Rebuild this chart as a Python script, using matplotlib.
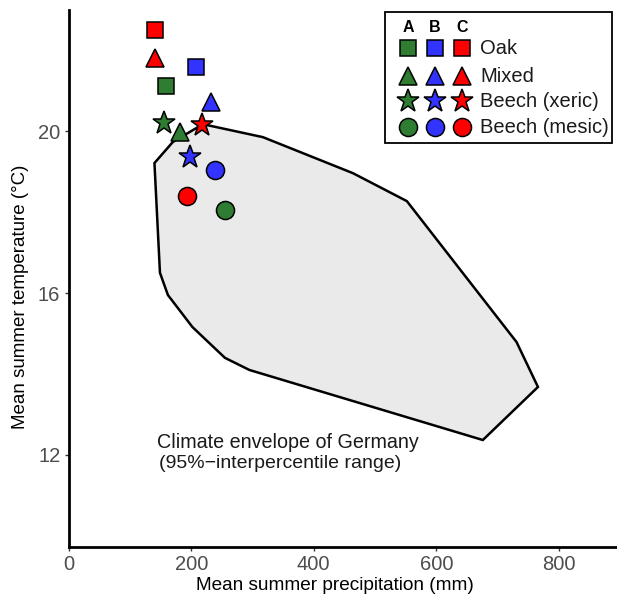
import matplotlib
matplotlib.use("Agg")
import matplotlib.pyplot as plt
from matplotlib.patches import Polygon, Rectangle

plt.rcParams['font.family'] = ['Liberation Sans', 'DejaVu Sans']

# climate envelope of Germany (95% interpercentile hull)
env_precip = [140, 170, 219, 317, 464, 552, 731, 766, 676, 295, 255, 202, 162, 149]
env_temp = [19.21, 19.73, 20.17, 19.85, 18.96, 18.27, 14.79, 13.68, 12.37, 14.1, 14.4, 15.16, 15.95, 16.5]

# study sites: groups A, B, C and forest types
groups = ['A', 'B', 'C']
group_colors = ['#2e7d32', '#3333ff', '#ff0000']
forest_types = ['Oak', 'Mixed', 'Beech (xeric)', 'Beech (mesic)']
markers = ['s', '^', '*', 'o']
msizes = [12, 13, 17, 13]

precip = {
    'A': [159.5, 182.3, 155.1, 254.7],
    'B': [207.3, 231.8, 197.5, 239.0],
    'C': [141.5, 140.4, 218.2, 193.7],
}
temp = {
    'A': [21.12, 19.97, 20.21, 18.05],
    'B': [21.59, 20.72, 19.37, 19.04],
    'C': [22.49, 21.81, 20.15, 18.40],
}

fig = plt.figure(figsize=(6.17, 5.99), dpi=100)
ax = fig.add_axes([0.1113, 0.0873, 0.8887, 0.896])

env = Polygon(list(zip(env_precip, env_temp)), closed=True, facecolor='#eaeaea',
              edgecolor='black', linewidth=1.8, zorder=1)
ax.add_patch(env)

for g, c in zip(groups, group_colors):
    for i, ft in enumerate(forest_types):
        ax.plot(precip[g][i], temp[g][i], marker=markers[i], markersize=msizes[i],
                color=c, markeredgecolor='black', markeredgewidth=1.1,
                linestyle='none', zorder=3)

ax.text(144, 12.3, 'Climate envelope of Germany', fontsize=14.2, color='#1a1a1a',
        va='center', ha='left')
ax.text(148, 11.78, '(95%\u2212interpercentile range)', fontsize=14, color='#1a1a1a',
        va='center', ha='left')

ax.set_xlim(0, 895)
ax.set_ylim(9.735, 22.99)
ax.set_xticks([0, 200, 400, 600, 800])
ax.set_yticks([12, 16, 20])
ax.tick_params(labelsize=14.5, labelcolor='#4d4d4d', color='#333333', length=3, width=1,
               pad=3)
for s in ['top', 'right']:
    ax.spines[s].set_visible(False)
for s in ['left', 'bottom']:
    ax.spines[s].set_linewidth(2)
ax.set_xlabel('Mean summer precipitation (mm)', fontsize=13.7)
ax.set_ylabel('Mean summer temperature (\u00b0C)', fontsize=13.5)
ax.xaxis.set_label_coords(0.486, -0.057)
ax.yaxis.set_label_coords(-0.073, 0.465)


# legend drawn by hand in axes coordinates
def ax_xy(px, py):
    return (px - 68.7) / 548.3, (546.7 - py) / 536.7


x0, y0 = ax_xy(385, 143)
x1, y1 = ax_xy(612, 12)
ax.add_patch(Rectangle((x0, y0), x1 - x0, y1 - y0, transform=ax.transAxes,
                       facecolor='white', edgecolor='black', linewidth=1.3, zorder=4))
col_px = [408, 435, 462]
row_py = [48, 76, 101, 127]
for px, g in zip(col_px, groups):
    hx, hy = ax_xy(px, 27)
    ax.text(hx, hy, g, transform=ax.transAxes, fontsize=11.5, fontweight='bold',
            ha='center', va='center', zorder=5)
for j, ft in enumerate(forest_types):
    for px, c in zip(col_px, group_colors):
        mx, my = ax_xy(px, row_py[j])
        ax.plot(mx, my, marker=markers[j], markersize=msizes[j], color=c,
                markeredgecolor='black', markeredgewidth=1.1, transform=ax.transAxes,
                linestyle='none', zorder=5, clip_on=False)
    lx, ly = ax_xy(480, row_py[j])
    ax.text(lx, ly, ft, transform=ax.transAxes, fontsize=14.5, ha='left', va='center',
            color='#1a1a1a', zorder=5)

fig.savefig('out.png', dpi=100)
